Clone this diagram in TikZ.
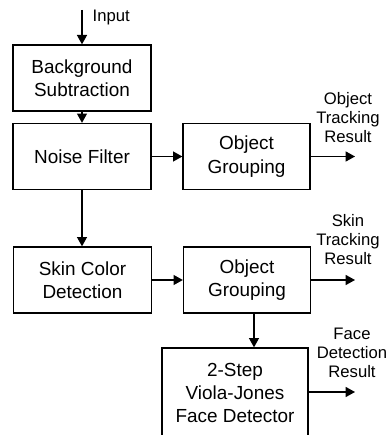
\documentclass[tikz,border=0pt]{standalone}
\usepackage{fontspec}
\setmainfont{Liberation Sans}
\usepackage{tikz}
\usetikzlibrary{arrows.meta, positioning}

\begin{document}
\begin{tikzpicture}[
    x=0.75pt, y=-0.75pt,
    >={Triangle[length=7pt, width=7.5pt]},
    line width=1pt,
    stage/.style={draw, line width=1pt, minimum width=103.5pt, minimum height=49.5pt, align=center, inner sep=0pt, font=\fontsize{14.2}{17.5}\selectfont},
    result/.style={align=center, inner sep=0pt, font=\fontsize{12.5}{14.25}\selectfont},
]
\useasboundingbox (0,0) rectangle (388,435);
\clip (0,0) rectangle (388,435);

\node[stage] (bg) at (82, 78) {Background\\Subtraction};
\node[stage] (nf) at (82, 156.5) {Noise Filter};
\node[stage, minimum width=95.25pt] (og1) at (246.5, 156.5) {Object\\Grouping};
\node[stage] (scd) at (82.5, 280) {Skin Color\\Detection};
\node[stage, minimum width=95.25pt] (og2) at (247, 280) {Object\\Grouping};
\node[stage, minimum width=109.5pt, minimum height=67.5pt] (fd) at (235, 393) {2-Step\\Viola-Jones\\Face Detector};

% inputs and outputs
\coordinate (in) at (82, 10);
\node[result, anchor=west] (inlabel) at (92, 17) {Input};
\coordinate (out1) at (355, 156.5);
\coordinate (out2) at (355, 280);
\coordinate (out3) at (355, 392);
\node[result] (res1) at (348, 118) {Object\\Tracking\\Result};
\node[result] (res2) at (348, 240) {Skin\\Tracking\\Result};
\node[result] (res3) at (352, 353) {Face\\Detection\\Result};

\draw[->] (in) -- (bg.north);
\draw[->] (bg.south) -- (nf.north);
\draw[->] (nf.east) -- (og1.west);
\draw[->] (nf.south) -- (scd.north -| nf.south);
\draw[->] (scd.east) -- (og2.west);
\draw[->] (og2.south -| 254,0) -- (fd.north -| 254,0);
\draw[->] (og1.east) -- (out1);
\draw[->] (og2.east) -- (out2);
\draw[->] (fd.east |- out3) -- (out3);
\end{tikzpicture}
\end{document}
